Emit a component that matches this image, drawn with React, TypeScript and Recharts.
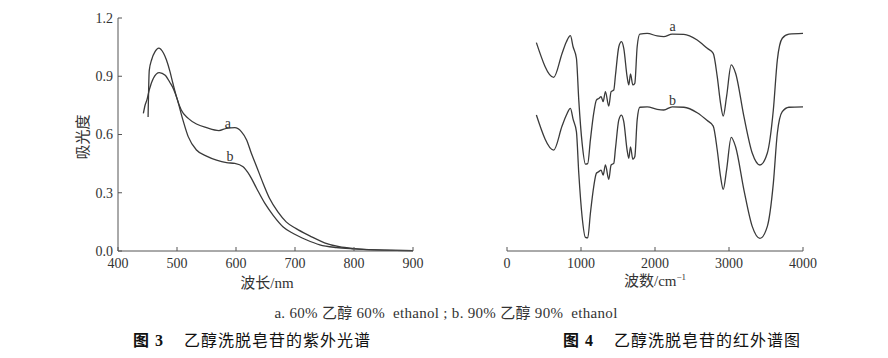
import { LineChart, Line, XAxis, YAxis, ReferenceDot } from "recharts";

// Fig 3 - UV spectra
const uvWaveA = [451, 453, 457, 463, 469, 477, 482, 488, 493, 499, 507, 519, 533, 550, 571, 584, 598, 609, 618, 626, 635, 646, 657, 671, 685, 702, 725, 750, 775, 800, 850, 900];
const uvAbsA = [0.69, 0.93, 0.985, 1.028, 1.045, 1.02, 0.985, 0.925, 0.864, 0.795, 0.727, 0.683, 0.654, 0.635, 0.62, 0.632, 0.635, 0.615, 0.572, 0.503, 0.434, 0.348, 0.27, 0.201, 0.15, 0.115, 0.078, 0.042, 0.022, 0.012, 0.004, 0.002];
const uvWaveB = [443, 446, 449, 453, 460, 470, 480, 488, 494, 499, 510, 519, 533, 550, 567, 584, 598, 612, 623, 635, 649, 663, 680, 697, 719, 742, 770, 800, 850, 900];
const uvAbsB = [0.709, 0.752, 0.778, 0.83, 0.89, 0.919, 0.905, 0.868, 0.835, 0.795, 0.675, 0.589, 0.52, 0.489, 0.468, 0.455, 0.451, 0.434, 0.391, 0.322, 0.245, 0.184, 0.124, 0.09, 0.058, 0.032, 0.018, 0.011, 0.004, 0.002];
const uvTicksX = [400, 500, 600, 700, 800, 900];
const uvTicksY = [0, 0.3, 0.6, 0.9, 1.2];

// Fig 4 - IR spectra (relative transmittance, no y scale shown)
const irWave = [397, 631, 744, 803, 857, 893, 938, 970, 1015, 1060, 1091, 1127, 1172, 1208, 1240, 1272, 1299, 1330, 1375, 1407, 1443, 1466, 1511, 1547, 1578, 1623, 1646, 1669, 1700, 1727, 1759, 1795, 1894, 2029, 2119, 2232, 2390, 2570, 2706, 2787, 2841, 2886, 2922, 2967, 3030, 3089, 3202, 3315, 3418, 3517, 3599, 3653, 3720, 3810, 4000];
const irA = [89.3, 74.2, 84.6, 89.7, 92.3, 87.5, 82.5, 64.3, 45.6, 36.5, 36.7, 47, 58.6, 64.3, 65, 65.8, 63.6, 68, 61.7, 68, 68.7, 75.2, 87.5, 89.7, 86.8, 74.5, 70.9, 75.7, 70.9, 71.6, 87.5, 93, 93.3, 92.2, 91.9, 93, 92.9, 90.4, 86.8, 84.6, 74.5, 62.9, 57.4, 65.8, 79.6, 76, 57.1, 41.2, 36.1, 41.2, 60, 81.7, 91.2, 93, 93.3];
const irB = [57.8, 42.6, 53, 57.8, 60.7, 56, 50.6, 32.5, 13.6, 4.6, 4.4, 15.1, 26.7, 32.5, 33.2, 33.9, 31.7, 36.1, 29.9, 36.1, 36.8, 43.3, 55.7, 57.8, 54.9, 42.6, 39, 44, 38.6, 39.7, 55.7, 61.2, 61.4, 60.3, 60, 61.4, 61.2, 58.8, 55.4, 53, 42.6, 31, 25.5, 33.9, 48.1, 44, 25.2, 9.3, 4.2, 9.3, 28.1, 49.9, 59.3, 61.2, 61.4];
const irTicksX = [0, 1000, 2000, 3000, 4000];

const uvA = uvWaveA.map((x, i) => ({ x, y: uvAbsA[i] }));
const uvB = uvWaveB.map((x, i) => ({ x, y: uvAbsB[i] }));
const irData = irWave.map((x, i) => ({ x, a: irA[i], b: irB[i] }));

const serif = '"Times New Roman", "Liberation Serif", "Noto Sans CJK SC", serif';
const ink = "#333";
const axisStroke = "#555";
const lineColor = "#3a3a3a";
const tick = { fontSize: 14, fill: ink, fontFamily: serif };
const curveLabel = { fontSize: 14, fill: ink, stroke: "none", fontFamily: serif };

const abs = (left: number, top: number, extra: any = {}) => ({
  position: "absolute" as const,
  left,
  top,
  fontFamily: serif,
  color: ink,
  whiteSpace: "nowrap" as const,
  lineHeight: 1,
  ...extra,
});

export default function App() {
  return (
    <div style={{ position: "absolute", left: 0, top: 0, width: 888, height: 358, background: "#fff", fontFamily: serif }}>
      <div style={abs(0, 0)}>
        <LineChart width={440} height={300} margin={{ top: 18, right: 27, bottom: 0, left: 0 }} style={{ fontFamily: serif }}>
          <XAxis
            dataKey="x"
            type="number"
            domain={[400, 900]}
            ticks={uvTicksX}
            allowDataOverflow
            height={49}
            tick={tick}
            tickSize={-4}
            tickMargin={11}
            stroke={axisStroke}
          />
          <YAxis
            type="number"
            domain={[0, 1.2]}
            ticks={uvTicksY}
            width={118}
            tick={tick}
            tickSize={-4}
            tickMargin={9}
            tickFormatter={(v) => v.toFixed(1)}
            stroke={axisStroke}
          />
          <Line data={uvA} dataKey="y" type="monotone" stroke={lineColor} strokeWidth={1.3} dot={false} isAnimationActive={false} />
          <Line data={uvB} dataKey="y" type="monotone" stroke={lineColor} strokeWidth={1.3} dot={false} isAnimationActive={false} />
          <ReferenceDot x={586} y={0.661} r={0} stroke="none" label={{ value: "a", position: "center", ...curveLabel }} />
          <ReferenceDot x={590} y={0.49} r={0} stroke="none" label={{ value: "b", position: "center", ...curveLabel }} />
        </LineChart>
      </div>
      <div style={abs(460, 0)}>
        <LineChart width={370} height={300} data={irData} margin={{ top: 18, right: 27, bottom: 0, left: 47 }} style={{ fontFamily: serif }}>
          <XAxis
            dataKey="x"
            type="number"
            domain={[0, 4000]}
            ticks={irTicksX}
            height={49}
            tick={tick}
            tickSize={-4}
            tickMargin={11}
            stroke={axisStroke}
          />
          <YAxis type="number" domain={[-1.3, 100]} hide />
          <Line dataKey="a" type="monotone" stroke={lineColor} strokeWidth={1.3} dot={false} isAnimationActive={false} />
          <Line dataKey="b" type="monotone" stroke={lineColor} strokeWidth={1.3} dot={false} isAnimationActive={false} />
          <ReferenceDot x={2237} y={96.5} r={0} stroke="none" label={{ value: "a", position: "center", ...curveLabel }} />
          <ReferenceDot x={2237} y={64.3} r={0} stroke="none" label={{ value: "b", position: "center", ...curveLabel }} />
        </LineChart>
      </div>

      {/* axis titles */}
      <div style={abs(83, 137, { fontSize: 15, transform: "translate(-50%, -50%) rotate(-90deg)" })}>吸光度</div>
      <div style={abs(267, 283, { fontSize: 15, transform: "translate(-50%, -50%)" })}>波长/nm</div>
      <div style={abs(655, 281, { fontSize: 15, transform: "translate(-50%, -50%)" })}>
        波数/cm<sup style={{ fontSize: 9 }}>−1</sup>
      </div>

      {/* captions */}
      <div style={abs(446, 313, { fontSize: 15, letterSpacing: 0.3, transform: "translate(-50%, -50%)" })}>
        a. 60% 乙醇 60%&nbsp; ethanol ; b. 90% 乙醇 90%&nbsp; ethanol
      </div>
      <div style={abs(133, 341, { fontSize: 16, letterSpacing: 1, transform: "translateY(-50%)", color: "#111" })}>
        <b>图 3</b>&nbsp;&nbsp;&nbsp; 乙醇洗脱皂苷的紫外光谱
      </div>
      <div style={abs(563, 341, { fontSize: 16, letterSpacing: 1, transform: "translateY(-50%)", color: "#111" })}>
        <b>图 4</b>&nbsp;&nbsp;&nbsp; 乙醇洗脱皂苷的红外谱图
      </div>
    </div>
  );
}
